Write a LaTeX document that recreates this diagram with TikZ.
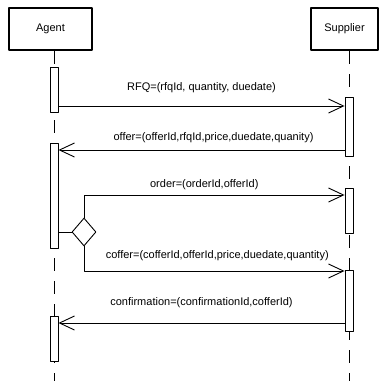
\documentclass[tikz,border=0pt]{standalone}
\usepackage{fontspec}
\setmainfont{Liberation Sans}
\usetikzlibrary{arrows.meta,shapes.geometric}
\begin{document}
\begin{tikzpicture}[x=1pt,y=-1pt,font=\fontsize{11}{13}\selectfont, line join=round, >={Straight Barb[length=15pt,width=14pt]},
	obj/.style={draw, line width=2pt, minimum height=42pt, inner sep=0pt},
	act/.style={draw, fill=white, line width=0.9pt, minimum width=8pt, inner sep=0pt, anchor=north},
	life/.style={line width=0.9pt, dash pattern=on 13pt off 10pt},
	msg/.style={->, line width=0.9pt}]
	\useasboundingbox (0,0) rectangle (379,381);
	% objects
	\node[obj, minimum width=83pt] (agent) at (50.5,29) {Agent};
	\node[obj, minimum width=67pt] (supplier) at (344.5,29) {Supplier};
	\coordinate (al) at (54,381);
	\coordinate (sl) at (349,381);
	\draw[life] (agent.south -| al) -- (al);
	\draw[life] (supplier.south -| sl) -- (sl);
	% activations
	\node[act, minimum height=45pt] (a1) at (54,67) {};
	\node[act, minimum height=105pt] (a2) at (54,143) {};
	\node[act, minimum height=45pt] (a3) at (54,316) {};
	\node[act, minimum height=59pt] (s1) at (349,97) {};
	\node[act, minimum height=45pt] (s2) at (349,188) {};
	\node[act, minimum height=61pt] (s3) at (349,270) {};
	\node[draw, diamond, line width=0.9pt, fill=white, minimum width=24pt, minimum height=28pt, inner sep=0pt] (d) at (84,232) {};
	% messages
	\draw[msg] (a1.east |- 0,106) -- (s1.west |- 0,106) node[midway, yshift=18pt]{RFQ=(rfqId, quantity, duedate)};
	\draw[msg] (s1.west |- 0,150) -- (a2.east |- 0,150) node[midway, xshift=12pt, yshift=12pt]{offer=(offerId,rfqId,price,duedate,quanity)};
	\draw[line width=0.9pt] (a2.east |- d) -- (d.west);
	\draw[msg] (d.north) |- (s2.west |- 0,195) node[pos=0.75, xshift=-10pt, yshift=10pt]{order=(orderId,offerId)};
	\draw[msg] (d.south) |- (s3.west |- 0,271) node[pos=0.75, xshift=3pt, yshift=15pt]{coffer=(cofferId,offerId,price,duedate,quantity)};
	\draw[msg] (s3.west |- 0,323) -- (a3.east |- 0,323) node[midway, yshift=20pt]{confirmation=(confirmationId,cofferId)};
	%\draw (a3.south) -- (al);
\end{tikzpicture}
\end{document}
